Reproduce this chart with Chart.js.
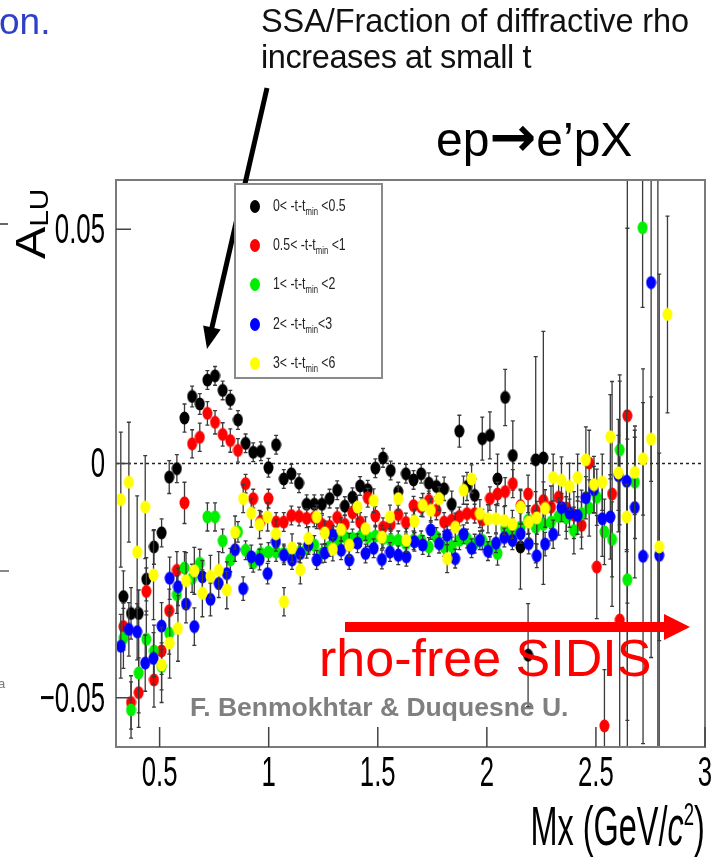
<!DOCTYPE html>
<html>
<head>
<meta charset="utf-8">
<script src="https://cdn.jsdelivr.net/npm/chart.js@4.4.1/dist/chart.umd.min.js"></script>
<style>
  html, body { margin: 0; padding: 0; background: #fff; }
  #wrap { position: relative; width: 723px; height: 861px; overflow: hidden; font-family: 'Liberation Sans', Arial, sans-serif; }
  #chart { position: absolute; left: 0; top: 0; }
  .note { position: absolute; white-space: nowrap; }
  .bit { position: absolute; background: #666; }
  #legend { position: absolute; left: 234px; top: 183px; width: 145px; height: 192px; border: 2px solid #8a8a8a; background: #fff; }
  #legend .row { position: absolute; left: 0; height: 20px; font-size: 16px; line-height: 20px; color: #222; }
  #legend .dot { position: absolute; left: 14px; top: 4px; width: 10px; height: 13px; border-radius: 50%; }
  #legend .txt { position: absolute; left: 37px; top: 0; white-space: nowrap; color: #222; transform: scaleX(0.77); transform-origin: 0 50%; filter: grayscale(100%); }
  #legend sub { font-size: 10px; vertical-align: -4px; color: #222; }
</style>
</head>
<body>
<div id="wrap">
  <canvas id="chart" width="723" height="861"></canvas>

  <div class="note" style="left:-1px; top:1px; font-size:37px; color:#2f3fc8;">on.</div>
  <div class="note" style="left:261px; top:3px; font-size:32.5px; line-height:36px; color:#111;"><span style="letter-spacing:-0.1px;">SSA/Fraction of diffractive rho</span><br><span style="letter-spacing:-0.4px;">increases at small t</span></div>
  <div class="note" style="left:436px; top:112px; font-size:48px; color:#000;">ep<span style="font-family:'DejaVu Sans'; font-weight:bold; font-size:56px; line-height:48px;">&#x2192;</span>e’pX</div>
  <div class="note" style="left:319px; top:628px; font-size:52px; color:#ff0000;">rho-free SIDIS</div>
  <div class="note" style="left:190px; top:692px; font-size:26.5px; font-weight:bold; color:#7f7f7f;">F. Benmokhtar &amp; Duquesne U.</div>
  <div class="note" style="right:18px; top:786px; font-size:56px; line-height:56px; color:#000; transform:scaleX(0.58); transform-origin:100% 50%;">Mx (GeV/<i>c</i><sup style="font-size:32px;">2</sup>)</div>
  <div class="note" style="left:10px; top:259px; font-size:42px; line-height:42px; color:#000; transform:rotate(-90deg) scaleX(1.15); transform-origin:0 0;">A<span style="font-size:26px; position:relative; top:3px;">LU</span></div>

  <!-- leftovers of the neighbouring slide panel at the left edge -->
  <div class="bit" style="left:0; top:223px; width:8px; height:2px;"></div>
  <div class="bit" style="left:0; top:570px; width:9px; height:2px; background:#888;"></div>
  <div class="note" style="left:-2px; top:676px; font-size:13px; color:#777;">a</div>

  <div id="legend"></div>
</div>

<script>
// Mx bin centres (two binnings seen in the plot)
const mxA = [0.334, 0.369, 0.404, 0.439, 0.474, 0.509, 0.544, 0.579, 0.614, 0.649,
  0.684, 0.719, 0.754, 0.789, 0.824, 0.859, 0.894, 0.929, 0.964, 0.999,
  1.034, 1.069, 1.104, 1.139, 1.174, 1.209, 1.244, 1.279, 1.314, 1.349,
  1.384, 1.419, 1.454, 1.489, 1.524, 1.559, 1.594, 1.629, 1.664, 1.699,
  1.734, 1.769, 1.804, 1.839, 1.874, 1.909, 1.944, 1.979, 2.014, 2.049,
  2.084, 2.119, 2.154, 2.189, 2.224, 2.259, 2.294, 2.329, 2.364, 2.399,
  2.434, 2.469, 2.504, 2.539, 2.574, 2.609, 2.644, 2.679, 2.714, 2.749,
  2.784];
const mxB = [0.322, 0.359, 0.397, 0.434, 0.472, 0.509, 0.546, 0.584, 0.621, 0.659,
  0.696, 0.733, 0.771, 0.808, 0.846, 0.883, 0.920, 0.958, 0.995, 1.033,
  1.070, 1.107, 1.145, 1.182, 1.220, 1.257, 1.294, 1.332, 1.369, 1.407,
  1.444, 1.481, 1.519, 1.556, 1.594, 1.631, 1.668, 1.706, 1.743, 1.781,
  1.818, 1.855, 1.893, 1.930, 1.968, 2.005, 2.042, 2.080, 2.117, 2.155,
  2.192, 2.229, 2.267, 2.304, 2.342, 2.379, 2.416, 2.454, 2.491, 2.529,
  2.566, 2.603, 2.641, 2.678, 2.716, 2.753, 2.790, 2.828];

// A_LU values per -t-tmin bin
const alu0 = [-0.0284, -0.0320, -0.0320, -0.0247, -0.0178, -0.0148, -0.0029, -0.0011, 0.0097, 0.0143,
  0.0127, 0.0178, 0.0187, 0.0156, 0.0136, 0.0093, 0.0043, 0.0024, 0.0026, -0.0009,
  0.0040, -0.0033, -0.0022, -0.0042, -0.0087, -0.0087, -0.0087, -0.0075, -0.0057, -0.0091,
  -0.0072, -0.0048, -0.0056, -0.0010, 0.0012, -0.0015, -0.0060, -0.0022, -0.0035, -0.0022,
  -0.0042, -0.0049, -0.0054, -0.0087, 0.0069, -0.0049, -0.0068, 0.0053, 0.0060, -0.0033,
  0.0141, 0.0017, -0.0178, -0.0409, 0.0008, 0.0012, null, null, null, null,
  null, null, null, null, null, null, 0.0700, null, null, null,
  -0.0700];
const err0 = [0.0055, 0.0055, 0.005, 0.0046, 0.0037, 0.003, 0.0035, 0.003, 0.003, 0.0022,
  0.0022, 0.002, 0.002, 0.002, 0.002, 0.002, 0.002, 0.002, 0.002, 0.002,
  0.002, 0.002, 0.002, 0.002, 0.002, 0.002, 0.002, 0.002, 0.002, 0.002,
  0.002, 0.002, 0.002, 0.002, 0.002, 0.002, 0.002, 0.002, 0.002, 0.002,
  0.0022, 0.0022, 0.0025, 0.0028, 0.0034, 0.003, 0.0035, 0.0046, 0.005, 0.0053,
  0.006, 0.0074, 0.009, 0.011, 0.022, 0.027, null, null, null, null,
  null, null, null, null, null, null, 0.2, null, null, null,
  0.2];

const alu1 = [-0.0348, -0.0510, -0.0489, -0.0273, -0.0462, -0.0400, -0.0314, -0.0228, -0.0084, 0.0042,
  0.0056, 0.0107, 0.0088, 0.0062, 0.0049, 0.0028, -0.0043, -0.0075, -0.0123, -0.0075,
  -0.0125, -0.0125, -0.0111, -0.0113, -0.0117, -0.0115, -0.0130, -0.0134, -0.0115, -0.0130,
  -0.0105, -0.0125, -0.0073, -0.0112, -0.0136, -0.0130, -0.0109, -0.0126, -0.0090, -0.0093,
  -0.0079, -0.0100, -0.0125, -0.0121, -0.0113, -0.0107, -0.0107, -0.0120, -0.0075, -0.0065,
  -0.0060, -0.0043, -0.0090, -0.0065, -0.0100, -0.0079, -0.0093, -0.0072, -0.0095, -0.0110,
  -0.0132, 0.0001, -0.0221, -0.0560, -0.0065, -0.0334, 0.0102, null, null, null,
  null];
const err1 = [0.005, 0.0057, 0.0074, 0.005, 0.0058, 0.005, 0.0046, 0.004, 0.0044, 0.003,
  0.003, 0.0025, 0.0025, 0.0025, 0.0025, 0.0025, 0.002, 0.002, 0.002, 0.002,
  0.002, 0.002, 0.002, 0.002, 0.002, 0.002, 0.002, 0.002, 0.002, 0.002,
  0.002, 0.002, 0.002, 0.002, 0.002, 0.002, 0.002, 0.002, 0.002, 0.002,
  0.002, 0.002, 0.002, 0.002, 0.002, 0.002, 0.002, 0.0022, 0.0025, 0.0025,
  0.003, 0.003, 0.0035, 0.004, 0.004, 0.004, 0.0045, 0.004, 0.005, 0.005,
  0.005, 0.007, 0.011, 0.012, 0.024, 0.051, 0.04, null, null, null,
  null];

const alu2 = [-0.0373, -0.0526, -0.0447, -0.0375, -0.0400, -0.0433, -0.0362, -0.0280, -0.0223, -0.0245,
  -0.0213, -0.0114, -0.0114, -0.0165, -0.0206, -0.0146, -0.0185, -0.0212, -0.0192, -0.0189,
  -0.0189, -0.0192, -0.0192, -0.0190, -0.0182, -0.0174, -0.0192, -0.0178, -0.0162, -0.0157,
  -0.0160, -0.0157, -0.0157, -0.0155, -0.0160, -0.0164, -0.0164, -0.0171, -0.0164, -0.0164,
  -0.0178, -0.0157, -0.0178, -0.0177, -0.0164, -0.0160, -0.0171, -0.0164, -0.0178, -0.0192,
  -0.0139, -0.0146, -0.0136, -0.0121, -0.0136, -0.0130, -0.0125, -0.0113, -0.0116, -0.0143,
  -0.0107, -0.0095, -0.0072, -0.0146, -0.0162, 0.0029, -0.0248, -0.0040, 0.0503, null,
  null];
const err2 = [0.0064, 0.006, 0.0085, 0.006, 0.0055, 0.005, 0.0045, 0.004, 0.0035, 0.003,
  0.003, 0.003, 0.003, 0.0025, 0.0025, 0.0022, 0.002, 0.002, 0.002, 0.002,
  0.002, 0.002, 0.002, 0.002, 0.002, 0.002, 0.002, 0.002, 0.002, 0.002,
  0.002, 0.002, 0.002, 0.002, 0.002, 0.002, 0.002, 0.002, 0.002, 0.002,
  0.002, 0.002, 0.002, 0.002, 0.002, 0.002, 0.002, 0.002, 0.0022, 0.0025,
  0.0025, 0.003, 0.003, 0.003, 0.0035, 0.0035, 0.004, 0.004, 0.0045, 0.005,
  0.005, 0.006, 0.006, 0.007, 0.008, 0.016, 0.03, 0.012, 0.017, null,
  null];

const alu3 = [-0.0390, -0.0354, -0.0359, -0.0426, -0.0416, -0.0347, -0.0245, -0.0263, -0.0300, -0.0348,
  -0.0242, -0.0290, -0.0256, -0.0235, -0.0184, -0.0267, -0.0199, -0.0205, -0.0235, -0.0167,
  -0.0196, -0.0206, -0.0192, -0.0174, -0.0206, -0.0191, -0.0153, -0.0185, -0.0206, -0.0170,
  -0.0192, -0.0181, -0.0205, -0.0189, -0.0196, -0.0199, -0.0167, -0.0174, -0.0142, -0.0171,
  -0.0153, -0.0203, -0.0151, -0.0181, -0.0164, -0.0187, -0.0170, -0.0158, -0.0164, -0.0150,
  -0.0171, -0.0197, -0.0172, -0.0151, -0.0094, -0.0106, -0.0111, -0.0073, -0.0056, -0.0118,
  -0.0114, -0.0026, -0.0038, -0.0094, -0.0198, 0.0386, -0.0196, null];
const err3 = [0.0068, 0.0057, 0.006, 0.006, 0.0055, 0.005, 0.0045, 0.004, 0.004, 0.004,
  0.0035, 0.0035, 0.003, 0.0025, 0.0025, 0.0025, 0.0025, 0.0022, 0.0022, 0.002,
  0.002, 0.002, 0.002, 0.002, 0.002, 0.002, 0.002, 0.002, 0.002, 0.002,
  0.002, 0.002, 0.002, 0.002, 0.002, 0.002, 0.002, 0.002, 0.002, 0.002,
  0.002, 0.002, 0.002, 0.002, 0.002, 0.002, 0.002, 0.002, 0.002, 0.002,
  0.0022, 0.0025, 0.0025, 0.003, 0.003, 0.003, 0.004, 0.0045, 0.005, 0.008,
  0.009, 0.012, 0.015, 0.015, 0.04, 0.08, 0.06, null];

const alu4 = [-0.0077, -0.0040, -0.0189, -0.0093, -0.0238, -0.0430, -0.0383, -0.0352, -0.0250, -0.0229,
  -0.0277, -0.0241, -0.0228, -0.0270, -0.0147, -0.0075, -0.0106, -0.0130, -0.0114, -0.0150,
  -0.0295, -0.0180, -0.0227, -0.0160, -0.0114, -0.0148, -0.0183, -0.0141, -0.0174, -0.0093,
  -0.0139, -0.0079, -0.0157, -0.0114, -0.0075, -0.0164, -0.0123, -0.0089, -0.0100, -0.0075,
  -0.0203, -0.0136, -0.0057, -0.0033, -0.0107, -0.0118, -0.0118, -0.0122, -0.0130, -0.0093,
  -0.0125, -0.0116, -0.0096, -0.0030, -0.0036, -0.0049, -0.0030, 0.0008, -0.0045, -0.0040,
  0.0057, -0.0020, -0.0114, -0.0019, 0.0010, 0.0052, -0.0178, 0.0318];
const err4 = [0.0144, 0.0128, 0.012, 0.011, 0.0095, 0.008, 0.0075, 0.007, 0.006, 0.005,
  0.005, 0.0045, 0.004, 0.004, 0.0035, 0.003, 0.003, 0.003, 0.003, 0.003,
  0.003, 0.003, 0.003, 0.0025, 0.0025, 0.0025, 0.0025, 0.0025, 0.0025, 0.0025,
  0.0025, 0.0025, 0.0025, 0.0025, 0.0025, 0.0025, 0.0025, 0.0025, 0.0025, 0.0025,
  0.003, 0.003, 0.003, 0.003, 0.003, 0.003, 0.003, 0.003, 0.003, 0.0035,
  0.0035, 0.0035, 0.004, 0.005, 0.005, 0.005, 0.005, 0.007, 0.006, 0.006,
  0.009, 0.008, 0.007, 0.009, 0.012, 0.009, 0.02, 0.021];

const seriesLabels = ['0< -t-t<sub>min</sub> <0.5', '0.5< -t-t<sub>min</sub> <1', '1< -t-t<sub>min</sub> <2',
  '2< -t-t<sub>min</sub><3', '3< -t-t<sub>min</sub> <6'];
const seriesColors = ['#000000', '#ff0000', '#00ee00', '#0000ff', '#ffff00'];

const xTicks = [0.5, 1, 1.5, 2, 2.5, 3];
const xTickLabels = ['0.5', '1', '1.5', '2', '2.5', '3'];
const yTicks = [-0.05, 0, 0.05];
const yTickLabels = ['\u22120.05', '0', '0.05'];

// Build point list from x bins, values and errors
function makePoints(xs, ys, es) {
    const pts = [];
    for (let i = 0; i < ys.length; i++) {
        if (ys[i] === null) continue;
        pts.push({ x: xs[i], y: ys[i], e: es[i] });
    }
    return pts;
}

// Slightly tall oval marker, like the stretched ROOT dots
function ovalMarker(color) {
    const c = document.createElement('canvas');
    c.width = 11;
    c.height = 14;
    const g = c.getContext('2d');
    g.fillStyle = color;
    g.beginPath();
    g.ellipse(5.5, 7, 5, 6.5, 0, 0, Math.PI * 2);
    g.fill();
    return c;
}

// Condensed label text (the plot's fonts are squeezed sideways)
function squeezedText(ctx, text, x, y, align, sx) {
    ctx.save();
    ctx.translate(x, y);
    ctx.scale(sx, 1);
    ctx.textAlign = align;
    ctx.textBaseline = 'middle';
    ctx.fillText(text, 0, 0);
    ctx.restore();
}

// Error bars, drawn just under each dataset's markers
const errorBars = {
    id: 'errorBars',
    beforeDatasetDraw(chart, args) {
        const ds = chart.data.datasets[args.index];
        const { ctx, chartArea, scales } = chart;
        ctx.save();
        ctx.beginPath();
        ctx.rect(chartArea.left, chartArea.top, chartArea.width, chartArea.height);
        ctx.clip();
        ctx.strokeStyle = '#3a3a3a';
        ctx.lineWidth = 1.3;
        ds.data.forEach(p => {
            const px = scales.x.getPixelForValue(p.x);
            const top = scales.y.getPixelForValue(p.y + p.e);
            const bot = scales.y.getPixelForValue(p.y - p.e);
            ctx.beginPath();
            ctx.moveTo(px, top);
            ctx.lineTo(px, bot);
            ctx.moveTo(px - 2, top);
            ctx.lineTo(px + 2, top);
            ctx.moveTo(px - 2, bot);
            ctx.lineTo(px + 2, bot);
            ctx.stroke();
        });
        ctx.restore();
    }
};

// Frame, inward ticks, tick labels, dotted zero line and the two arrows
const decorations = {
    id: 'decorations',
    beforeDatasetsDraw(chart) {
        const { ctx, chartArea, scales } = chart;
        const y0 = scales.y.getPixelForValue(0);
        ctx.save();
        ctx.strokeStyle = '#222';
        ctx.lineWidth = 1.5;
        ctx.setLineDash([3, 3]);
        ctx.beginPath();
        ctx.moveTo(chartArea.left, y0);
        ctx.lineTo(chartArea.right, y0);
        ctx.stroke();
        ctx.restore();
    },
    afterDatasetsDraw(chart) {
        const { ctx, chartArea, scales } = chart;
        ctx.save();
        ctx.strokeStyle = '#7a7a7a';
        ctx.lineWidth = 2;
        ctx.strokeRect(chartArea.left, chartArea.top, chartArea.width, chartArea.height);
        ctx.strokeStyle = '#444';
        ctx.lineWidth = 1.5;
        ctx.beginPath();
        xTicks.forEach(v => {
            const px = scales.x.getPixelForValue(v);
            ctx.moveTo(px, chartArea.bottom);
            ctx.lineTo(px, chartArea.bottom - 20);
        });
        yTicks.forEach(v => {
            const py = scales.y.getPixelForValue(v);
            ctx.moveTo(chartArea.left, py);
            ctx.lineTo(chartArea.left + 15, py);
        });
        ctx.stroke();

        // tick labels
        ctx.fillStyle = '#000';
        ctx.font = "43px 'Liberation Sans', Arial, sans-serif";
        xTicks.forEach((v, i) => {
            squeezedText(ctx, xTickLabels[i], scales.x.getPixelForValue(v), chartArea.bottom + 27, 'center', 0.6);
        });
        yTicks.forEach((v, i) => {
            squeezedText(ctx, yTickLabels[i], chartArea.left - 11, scales.y.getPixelForValue(v) + 2, 'right', 0.6);
        });
        ctx.restore();
    },
    afterDraw(chart) {
        const ctx = chart.ctx;
        ctx.save();
        // black pointer arrow
        const x1 = 267, y1 = 88, x2 = 207, y2 = 349;
        const ang = Math.atan2(y2 - y1, x2 - x1);
        ctx.strokeStyle = '#000';
        ctx.fillStyle = '#000';
        ctx.lineWidth = 5;
        ctx.beginPath();
        ctx.moveTo(x1, y1);
        ctx.lineTo(x2 - 16 * Math.cos(ang), y2 - 16 * Math.sin(ang));
        ctx.stroke();
        ctx.beginPath();
        ctx.moveTo(x2, y2);
        ctx.lineTo(x2 - 22 * Math.cos(ang) + 9 * Math.sin(ang), y2 - 22 * Math.sin(ang) - 9 * Math.cos(ang));
        ctx.lineTo(x2 - 22 * Math.cos(ang) - 9 * Math.sin(ang), y2 - 22 * Math.sin(ang) + 9 * Math.cos(ang));
        ctx.closePath();
        ctx.fill();
        // red arrow
        ctx.fillStyle = '#ff0000';
        ctx.fillRect(345, 622, 322, 10);
        ctx.beginPath();
        ctx.moveTo(690, 627);
        ctx.lineTo(664, 614);
        ctx.lineTo(664, 640);
        ctx.closePath();
        ctx.fill();
        ctx.restore();
    }
};

document.addEventListener('DOMContentLoaded', function() {
    // HTML legend with subscripts
    const legend = document.getElementById('legend');
    const rowTops = [11, 50, 89, 129, 168];
    seriesLabels.forEach((lab, i) => {
        const row = document.createElement('div');
        row.className = 'row';
        row.style.top = rowTops[i] + 'px';
        row.innerHTML = '<span class="dot" style="background:' + seriesColors[i] + '"></span><span class="txt">' + lab + '</span>';
        legend.appendChild(row);
    });

    const xs = [mxA, mxA, mxA, mxB, mxB];
    const ys = [alu0, alu1, alu2, alu3, alu4];
    const es = [err0, err1, err2, err3, err4];

    const datasets = ys.map((vals, i) => ({
        label: seriesLabels[i],
        data: makePoints(xs[i], vals, es[i]),
        pointStyle: ovalMarker(seriesColors[i]),
        showLine: false,
        order: 5 - i
    }));

    const ctx = document.getElementById('chart').getContext('2d');
    new Chart(ctx, {
        type: 'scatter',
        data: { datasets: datasets },
        options: {
            responsive: false,
            animation: false,
            events: [],
            layout: { padding: { left: 0, right: 18, top: 180, bottom: 0 } },
            plugins: {
                legend: { display: false },
                tooltip: { enabled: false }
            },
            scales: {
                x: {
                    type: 'linear',
                    min: 0.3,
                    max: 3.0,
                    afterBuildTicks: s => { s.ticks = xTicks.map(v => ({ value: v })); },
                    afterFit: s => { s.height = 114; },
                    grid: { display: false, drawTicks: false },
                    border: { display: false },
                    ticks: { display: false }
                },
                y: {
                    type: 'linear',
                    min: -0.0605,
                    max: 0.0605,
                    afterBuildTicks: s => { s.ticks = yTicks.map(v => ({ value: v })); },
                    afterFit: s => { s.width = 116; },
                    grid: { display: false, drawTicks: false },
                    border: { display: false },
                    ticks: { display: false }
                }
            }
        },
        plugins: [errorBars, decorations]
    });
});
</script>
</body>
</html>
